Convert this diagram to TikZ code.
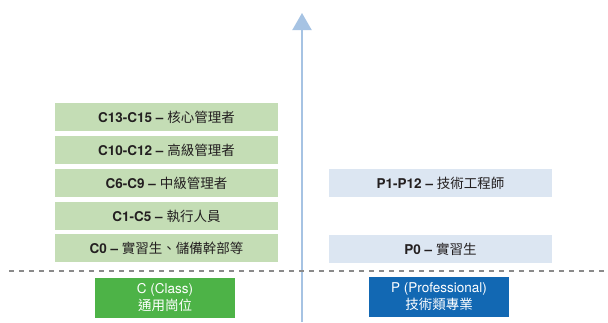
\documentclass[tikz,border=0pt]{standalone}
\usepackage{fontspec}
\setmainfont{TeX Gyre Heros}
\newfontfamily\cjk{Noto Sans CJK TC}
\usetikzlibrary{arrows.meta}

\definecolor{clight}{HTML}{C4DDB5}
\definecolor{plight}{HTML}{DCE6F2}
\definecolor{cdark}{HTML}{4DB347}
\definecolor{pdark}{HTML}{1268B3}
\definecolor{axisblue}{HTML}{A6C3E3}
\definecolor{inkdark}{HTML}{231F20}
\definecolor{divider}{HTML}{8A8A8A}

\begin{document}
\begin{tikzpicture}[x=1pt, y=-1pt,
    grade/.style={minimum width=223pt, minimum height=28pt, inner sep=0pt,
        text=inkdark, font=\fontsize{13.5}{16}\selectfont},
    track/.style={minimum width=140pt, minimum height=40pt, inner sep=0pt,
        text=white, align=center, font=\fontsize{13.5}{17}\selectfont}]
    \useasboundingbox (0, 0) rectangle (608, 322);

    % axis
    \coordinate (axisbot) at (302, 322);
    \coordinate (axistop) at (302, 13);
    \draw[axisblue, line width=2pt, -{Triangle[length=17pt, width=19pt]}] (axisbot) -- (axistop);

    % C grades
    \node[grade, fill=clight] (c13) at (166.5, 117) {\textbf{C13-C15 –} {\cjk 核心管理者}};
    \node[grade, fill=clight] (c10) at (166.5, 150) {\textbf{C10-C12 –} {\cjk 高級管理者}};
    \node[grade, fill=clight] (c6) at (166.5, 183) {\textbf{C6-C9 –} {\cjk 中級管理者}};
    \node[grade, fill=clight] (c1) at (166.5, 216) {\textbf{C1-C5 –} {\cjk 執行人員}};
    \node[grade, fill=clight] (c0) at (166.5, 248) {\textbf{C0 –} {\cjk 實習生、儲備幹部等}};

    % P grades
    \node[grade, fill=plight] (p1) at (440.5, 183) {\textbf{P1-P12 –} {\cjk 技術工程師}};
    \node[grade, fill=plight] (p0) at (440.5, 249) {\textbf{P0 –} {\cjk 實習生}};

    % divider
    \coordinate (divl) at (9, 270.7);
    \coordinate (divr) at (608, 270.7);
    \draw[divider, line width=1.8pt, dash pattern=on 4.5pt off 5.5pt] (divl) -- (divr);

    % tracks
    \node[track, fill=cdark] (ctrack) at (165, 297.7) {C (Class)\\{\cjk 通用崗位}};
    \node[track, fill=pdark] (ptrack) at (439, 296.7) {P (Professional)\\{\cjk 技術類專業}};
\end{tikzpicture}
\end{document}
